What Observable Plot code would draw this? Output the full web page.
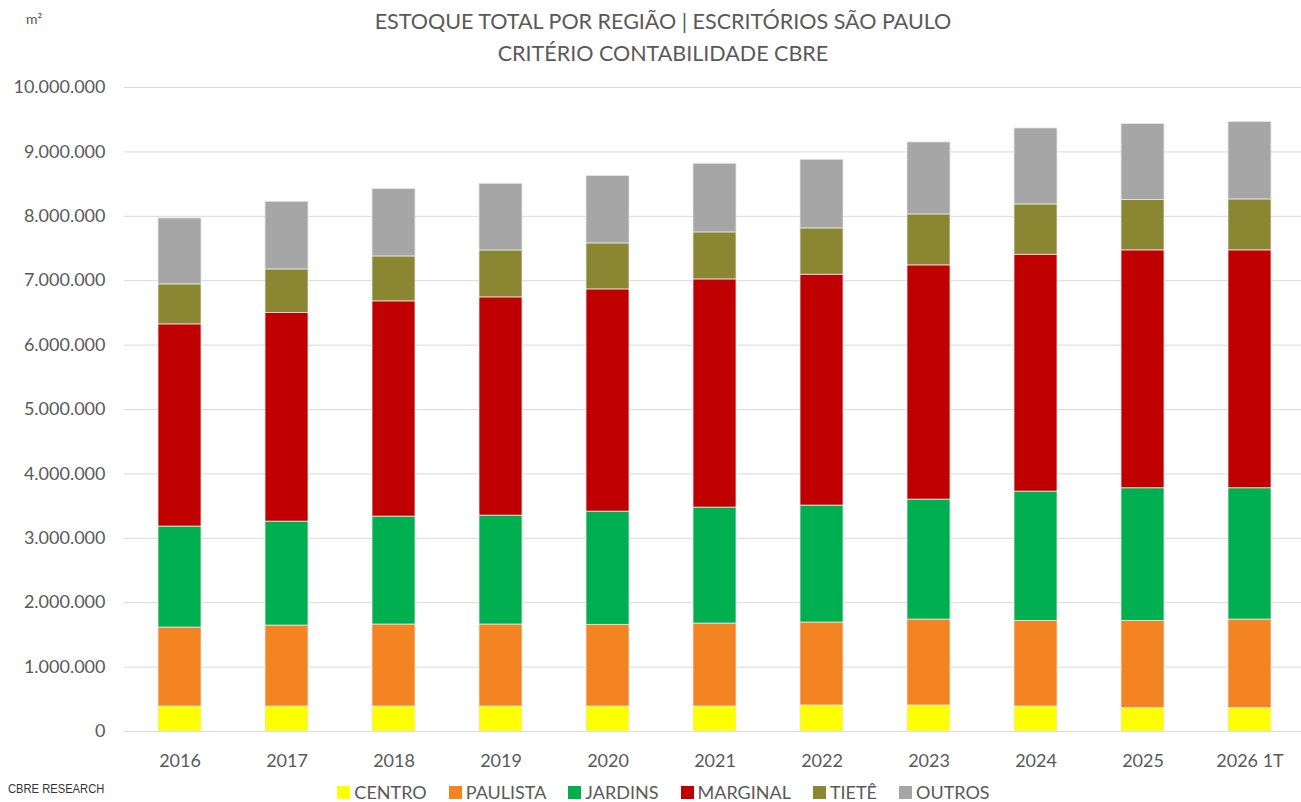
<!DOCTYPE html>
<html><head><meta charset="utf-8">
<script src="https://cdn.jsdelivr.net/npm/d3@7"></script>
<script src="https://cdn.jsdelivr.net/npm/@observablehq/plot@0.6"></script>
<style>
body{margin:0;background:#fff;font-family:Lato,"Open Sans",sans-serif;}
#wrap{position:relative;width:1301px;height:802px;overflow:hidden;background:#fff}
#chart{position:absolute;left:0;top:0}
#title{position:absolute;left:363px;width:600px;top:5px;text-align:center;font-size:21.5px;line-height:32px;color:#595959;font-family:Lato,sans-serif;white-space:nowrap}
#unit{position:absolute;left:26px;top:10px;font-size:14px;color:#595959;font-family:Lato,sans-serif}
#legend{position:absolute;left:0;width:1327px;top:783px;height:18px;display:flex;justify-content:center;font-size:18px;color:#595959;font-family:Lato,sans-serif;line-height:18px}
#legend .item{display:flex;align-items:center;margin-right:22px}
#legend .item:last-child{margin-right:0}
#legend .sw{width:13px;height:13px;margin-right:4px;display:inline-block}
#source{position:absolute;left:8px;top:781px;font-size:13px;line-height:16px;color:#333;font-family:"Liberation Sans Narrow","Arial Narrow",sans-serif;transform:scaleX(0.86);transform-origin:0 0;white-space:nowrap}
</style></head>
<body><div id="wrap">
<div id="chart"></div>
<div id="unit">m²</div>
<div id="title">ESTOQUE TOTAL POR REGIÃO | ESCRITÓRIOS SÃO PAULO<br>CRITÉRIO CONTABILIDADE CBRE</div>
<div id="legend"></div>
<div id="source">CBRE RESEARCH</div>
</div>
<script>
const years = ["2016","2017","2018","2019","2020","2021","2022","2023","2024","2025","2026 1T"];
const series = ["CENTRO","PAULISTA","JARDINS","MARGINAL","TIETÊ","OUTROS"];
const colors = ["#FFFF00","#F48322","#00B050","#C00000","#8B8632","#A6A6A6"];
const centro   = [388000,388000,388000,388000,388000,388000,404000,404000,388000,362000,362000];
const paulista = [1226000,1257000,1273000,1273000,1268000,1288000,1288000,1334000,1330000,1356000,1376000];
const jardins  = [1568000,1614000,1676000,1691000,1758000,1801000,1816000,1863000,2007000,2059000,2039000];
const marginal = [3140000,3239000,3342000,3389000,3451000,3543000,3585000,3637000,3678000,3694000,3694000];
const tiete    = [621000,677000,698000,729000,714000,730000,719000,791000,781000,781000,791000];
const outros   = [1024000,1051000,1046000,1035000,1046000,1066000,1066000,1118000,1180000,1180000,1201000];
const yTicks = [0,1000000,2000000,3000000,4000000,5000000,6000000,7000000,8000000,9000000,10000000];

const valuesBySeries = [centro, paulista, jardins, marginal, tiete, outros];
const data = [];
years.forEach((y, i) => {
  series.forEach((s, j) => data.push({year: y, series: s, value: valuesBySeries[j][i]}));
});

const ptBR = d3.formatLocale({decimal: ",", thousands: ".", grouping: [3], currency: ["R$", ""]});
const fmt = ptBR.format(",d");

const chart = Plot.plot({
  width: 1301,
  height: 802,
  marginLeft: 124,
  marginRight: -4,
  marginTop: 87,
  marginBottom: 71,
  style: {fontFamily: "Lato, sans-serif", fontSize: "18px", color: "#595959", background: "#fff"},
  x: {domain: years, paddingInner: 0.6, paddingOuter: 0.3, label: null},
  y: {domain: [0, 10000000], label: null},
  color: {domain: series, range: colors},
  marks: [
    Plot.ruleY(yTicks, {stroke: "#d9d9d9", strokeWidth: 1}),
    Plot.barY(data, {x: "year", y: "value", fill: "series", z: "series", order: series, stroke: "#e6e6e6", strokeWidth: 0.8}),
    Plot.axisY({ticks: yTicks, tickFormat: fmt, tickSize: 0, tickPadding: 19, fill: "#595959", label: null}),
    Plot.axisX({tickSize: 0, tickPadding: 23, fill: "#595959", label: null})
  ]
});
document.getElementById("chart").appendChild(chart);

const legend = document.getElementById("legend");
series.forEach((s, j) => {
  const item = document.createElement("div");
  item.className = "item";
  const sw = document.createElement("span");
  sw.className = "sw";
  sw.style.background = colors[j];
  item.appendChild(sw);
  item.appendChild(document.createTextNode(s));
  legend.appendChild(item);
});
</script>
</body></html>
